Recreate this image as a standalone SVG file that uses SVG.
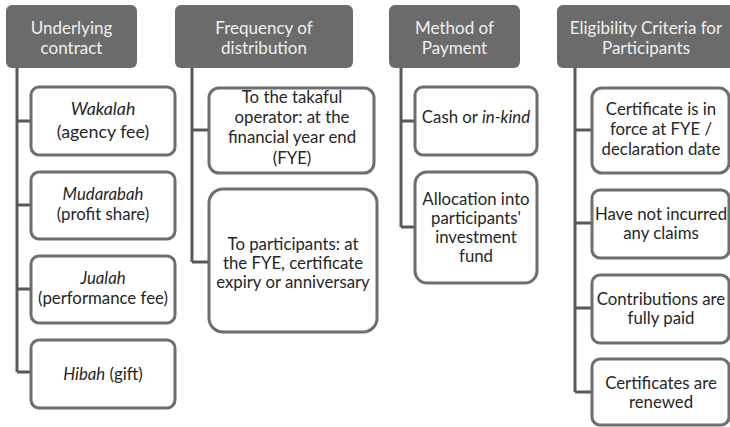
<svg xmlns="http://www.w3.org/2000/svg" width="730" height="427" viewBox="0 0 730 427">
<style>
.hdr{fill:#6b6b6b}
.hdr-t{font-family:Lato,"Open Sans",sans-serif;font-size:17px;fill:#f0f0f0;text-anchor:middle}
.box{fill:#ffffff;stroke:#6e6e6e;stroke-width:3}
.t{font-family:Lato,"Open Sans",sans-serif;font-size:16.8px;fill:#262626;text-anchor:middle}
.big{font-size:17.8px}
.conn{fill:none;stroke:#585858;stroke-width:3}
</style>
<rect width="730" height="427" fill="#ffffff"/>
<g id="connectors">
<path class="conn" d="M17,68 V372 M17,121 H31 M17,205 H31 M17,289 H31 M17,372 H31"/>
<path class="conn" d="M192,68 V262 M192,130 H209 M192,262 H209"/>
<path class="conn" d="M401,68 V227 M401,121 H415 M401,227 H415"/>
<path class="conn" d="M575,68 V392 M575,130 H592 M575,223 H592 M575,308 H592 M575,392 H592"/>
</g>
<g id="h1"><rect class="hdr" x="6" y="5" width="131" height="63" rx="6"/><text class="hdr-t" x="71.5" y="34">Underlying</text><text class="hdr-t" x="71.5" y="54">contract</text></g>
<g id="h2"><rect class="hdr" x="175" y="5" width="178" height="63" rx="6"/><text class="hdr-t" x="264" y="34">Frequency of</text><text class="hdr-t" x="264" y="54">distribution</text></g>
<g id="h3"><rect class="hdr" x="389" y="5" width="131" height="63" rx="6"/><text class="hdr-t" x="454.5" y="34">Method of</text><text class="hdr-t" x="454.5" y="54">Payment</text></g>
<g id="h4"><rect class="hdr" x="557" y="5" width="178" height="63" rx="6"/><text class="hdr-t" x="646" y="34">Eligibility Criteria for</text><text class="hdr-t" x="646" y="54">Participants</text></g>

<g id="c1a"><rect class="box" x="31" y="87" width="144" height="68" rx="8"/><text class="t big" x="103" y="115" font-style="italic">Wakalah</text><text class="t big" x="103" y="138">(agency fee)</text></g>
<g id="c1b"><rect class="box" x="31" y="172" width="144" height="67" rx="8"/><text class="t" x="103" y="200" font-style="italic">Mudarabah</text><text class="t" x="103" y="220">(profit share)</text></g>
<g id="c1c"><rect class="box" x="31" y="256" width="144" height="67" rx="8"/><text class="t" x="103" y="284" font-style="italic">Jualah</text><text class="t" x="103" y="304">(performance fee)</text></g>
<g id="c1d"><rect class="box" x="31" y="340" width="144" height="68" rx="8"/><text class="t" x="103" y="380"><tspan font-style="italic">Hibah</tspan> (gift)</text></g>

<g id="c2a"><rect class="box" x="209" y="88" width="165" height="85" rx="10"/><text class="t" x="292" y="103">To the takaful</text><text class="t" x="292" y="123">operator: at the</text><text class="t" x="292" y="143">financial year end</text><text class="t" x="292" y="164">(FYE)</text></g>
<g id="c2b"><rect class="box" x="209" y="189" width="168" height="143" rx="14"/><text class="t" x="293" y="250">To participants: at</text><text class="t" x="293" y="269">the FYE, certificate</text><text class="t" x="293" y="288">expiry or anniversary</text></g>

<g id="c3a"><rect class="box" x="415" y="87" width="122" height="68" rx="8"/><text class="t" x="476" y="123">Cash or <tspan font-style="italic">in-kind</tspan></text></g>
<g id="c3b"><rect class="box" x="415" y="172" width="122" height="111" rx="12"/><text class="t" x="476" y="205">Allocation into</text><text class="t" x="476" y="224">participants'</text><text class="t" x="476" y="243">investment</text><text class="t" x="476" y="262">fund</text></g>

<g id="c4a"><rect class="box" x="592" y="88" width="137" height="85" rx="10"/><text class="t" x="661" y="115">Certificate is in</text><text class="t" x="661" y="135">force at FYE /</text><text class="t" x="661" y="155">declaration date</text></g>
<g id="c4b"><rect class="box" x="592" y="190" width="137" height="68" rx="8"/><text class="t" x="661" y="220">Have not incurred</text><text class="t" x="661" y="239">any claims</text></g>
<g id="c4c"><rect class="box" x="592" y="275" width="137" height="68" rx="8"/><text class="t" x="661" y="305">Contributions are</text><text class="t" x="661" y="324">fully paid</text></g>
<g id="c4d"><rect class="box" x="592" y="359" width="137" height="66" rx="8"/><text class="t" x="661" y="389">Certificates are</text><text class="t" x="661" y="408">renewed</text></g>
</svg>
